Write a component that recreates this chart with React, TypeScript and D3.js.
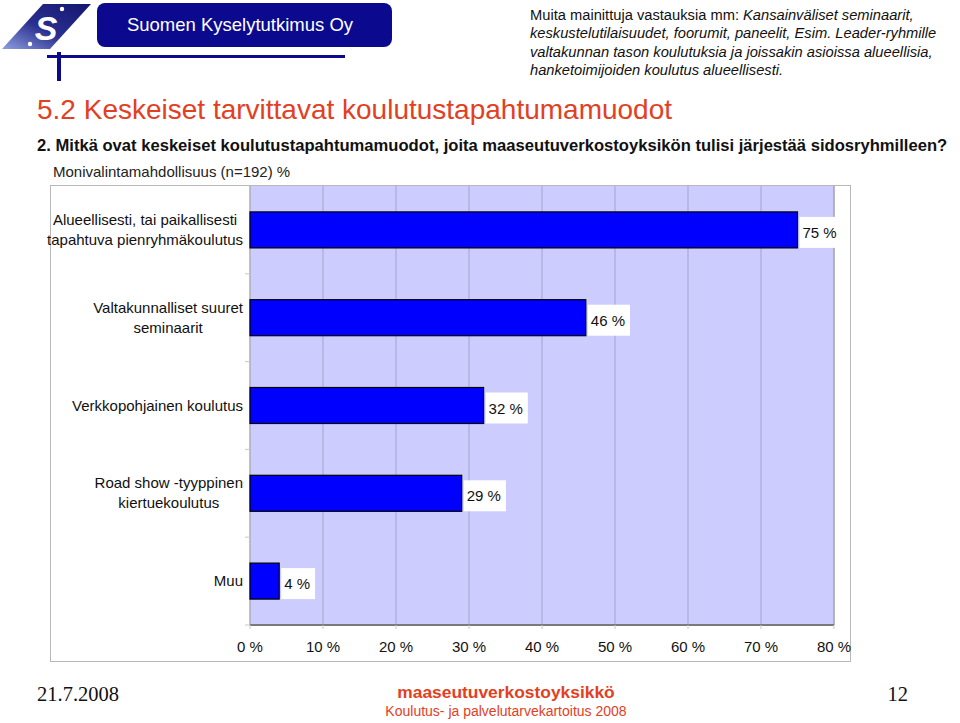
import React from "react";
import * as d3 from "d3";

const categories: string[][] = [
  ["Alueellisesti, tai paikallisesti", "tapahtuva pienryhmäkoulutus"],
  ["Valtakunnalliset suuret", "seminaarit"],
  ["Verkkopohjainen koulutus"],
  ["Road show -tyyppinen", "kiertuekoulutus"],
  ["Muu"],
];
const values: number[] = [75, 46, 32, 29, 4];
const xTicks: number[] = [0, 10, 20, 30, 40, 50, 60, 70, 80];

const FONT = "'Liberation Sans', Arial, Helvetica, sans-serif";
const SERIF = "'Liberation Serif', 'Times New Roman', serif";
const RED = "#e3401f";

let ctx: CanvasRenderingContext2D | null = null;
function measure(t: string, font: string) {
  if (!ctx) {
    const c = document.createElement("canvas");
    ctx = c.getContext("2d");
  }
  if (!ctx) return t.length * 7;
  ctx.font = font;
  return ctx.measureText(t).width;
}

export default function App() {
  const W = 960, H = 723;
  const plot = { left: 250, right: 834, top: 186, bottom: 625 };
  const x = d3.scaleLinear().domain([0, 80]).range([plot.left, plot.right]);
  const y = d3
    .scaleBand<number>()
    .domain(values.map((_, i) => i))
    .range([plot.top, plot.bottom])
    .paddingInner(0.59)
    .paddingOuter(0.295);
  const band = (plot.bottom - plot.top) / values.length;
  const FS = 15;
  const labelFont = `${FS}px ${FONT}`;

  return (
    <svg width={W} height={H} style={{ position: "absolute", left: 0, top: 0 }}>
      <defs>
        <linearGradient id="logoGrad" x1="0" y1="1" x2="1" y2="0">
          <stop offset="0%" stopColor="#8fa0e0" />
          <stop offset="45%" stopColor="#2a2f8f" />
          <stop offset="100%" stopColor="#14166e" />
        </linearGradient>
      </defs>
      <rect x={0} y={0} width={W} height={H} fill="#fff" />

      {/* Logo */}
      <polygon points="43,4 91,4 50,49 2,49" fill="url(#logoGrad)" />
      <text x={46} y={40} fontFamily={FONT} fontWeight="bold" fontStyle="italic" fontSize={34} fill="#fff" textAnchor="middle">S</text>
      <circle cx={62} cy={9} r={2.2} fill="#fff" />
      <circle cx={30} cy={44} r={2.2} fill="#fff" />
      <rect x={97} y={3} width={295} height={44} rx={8} fill="#0b0a8f" />
      <text x={240} y={31} fontFamily={FONT} fontSize={18.5} fill="#fff" textAnchor="middle">Suomen Kyselytutkimus Oy</text>
      <rect x={47} y={55} width={298} height={3} fill="#0b0a8f" />
      <rect x={57} y={52} width={4} height={29} fill="#0b0a8f" />

      {/* Top right note */}
      <g fontFamily={FONT} fontSize={14.7} fill="#111">
        <text x={530} y={20}>
          <tspan>Muita mainittuja vastauksia mm: </tspan>
          <tspan fontStyle="italic">Kansainväliset seminaarit,</tspan>
        </text>
        <text x={530} y={38} fontStyle="italic">keskustelutilaisuudet, foorumit, paneelit, Esim. Leader-ryhmille</text>
        <text x={530} y={57} fontStyle="italic">valtakunnan tason koulutuksia ja joissakin asioissa alueellisia,</text>
        <text x={530} y={75} fontStyle="italic">hanketoimijoiden koulutus alueellisesti.</text>
      </g>

      {/* Titles */}
      <text x={37} y={119} fontFamily={FONT} fontSize={28} fill={RED}>5.2 Keskeiset tarvittavat koulutustapahtumamuodot</text>
      <text x={37} y={151} fontFamily={FONT} fontSize={16.6} fontWeight="bold" fill="#111">2. Mitkä ovat keskeiset koulutustapahtumamuodot, joita maaseutuverkostoyksikön tulisi järjestää sidosryhmilleen?</text>
      <text x={53} y={177} fontFamily={FONT} fontSize={15} fill="#222">Monivalintamahdollisuus (n=192) %</text>

      {/* Chart frame */}
      <rect x={50.5} y={185.5} width={800} height={476} fill="#fff" stroke="#b8b8b8" strokeWidth={1} />
      <rect x={plot.left} y={plot.top} width={plot.right - plot.left} height={plot.bottom - plot.top} fill="#ccccff" />
      {xTicks.map((t) => (
        <line key={"g" + t} x1={x(t)} x2={x(t)} y1={plot.top} y2={plot.bottom} stroke="#a4a4cc" strokeWidth={1} />
      ))}
      <line x1={plot.right} x2={plot.right} y1={plot.top} y2={plot.bottom} stroke="#a0a0a0" strokeWidth={1} />
      <line x1={plot.left} x2={plot.left} y1={plot.top} y2={plot.bottom} stroke="#b0b0b0" strokeWidth={1} />
      {values.map((_, i) => (
        <line key={"yt" + i} x1={plot.left - 5} x2={plot.left} y1={plot.top + band * (i + 1)} y2={plot.top + band * (i + 1)} stroke="#c8c8c8" />
      ))}
      <line x1={plot.left} x2={plot.right} y1={plot.bottom} y2={plot.bottom} stroke="#7a7a7a" strokeWidth={2} />
      {xTicks.map((t) => (
        <line key={"xt" + t} x1={x(t)} x2={x(t)} y1={plot.bottom} y2={plot.bottom + 4} stroke="#c8c8c8" />
      ))}

      {/* Bars */}
      {values.map((v, i) => {
        const by = y(i) as number;
        const bh = y.bandwidth();
        const lab = `${v} %`;
        const tw = measure(lab, labelFont);
        return (
          <g key={"b" + i}>
            <rect x={x(0)} y={by} width={x(v) - x(0)} height={bh} fill="#0000ff" stroke="#000" strokeWidth={1.2} />
            <rect x={x(v) + 2} y={by + 5} width={tw + 8} height={bh - 5} fill="#fff" />
            <text x={x(v) + 5} y={by + bh / 2 + 8} fontFamily={FONT} fontSize={FS} fill="#111">{lab}</text>
          </g>
        );
      })}

      {/* Category labels */}
      {categories.map((lines, i) => {
        const cy = plot.top + band * (i + 0.5);
        const maxW = Math.max(...lines.map((l) => measure(l, labelFont)));
        const cx = 243 - maxW / 2;
        const lh = 20;
        const y0 = cy - ((lines.length - 1) * lh) / 2 + 5;
        return (
          <text key={"c" + i} fontFamily={FONT} fontSize={FS} fill="#111" textAnchor="middle">
            {lines.map((l, j) => (
              <tspan key={j} x={cx} y={y0 + j * lh}>{l}</tspan>
            ))}
          </text>
        );
      })}

      {/* X tick labels */}
      {xTicks.map((t) => (
        <text key={"xl" + t} x={x(t)} y={652} fontFamily={FONT} fontSize={FS} fill="#111" textAnchor="middle">{`${t} %`}</text>
      ))}

      {/* Footer */}
      <text x={37} y={701} fontFamily={SERIF} fontSize={20.5} fill="#111">21.7.2008</text>
      <text x={506} y={698} fontFamily={FONT} fontSize={17.4} fontWeight="bold" fill={RED} textAnchor="middle">maaseutuverkostoyksikkö</text>
      <text x={506} y={716} fontFamily={FONT} fontSize={14} fill={RED} textAnchor="middle">Koulutus- ja palvelutarvekartoitus 2008</text>
      <text x={908} y={701} fontFamily={SERIF} fontSize={20.5} fill="#111" textAnchor="end">12</text>
    </svg>
  );
}
